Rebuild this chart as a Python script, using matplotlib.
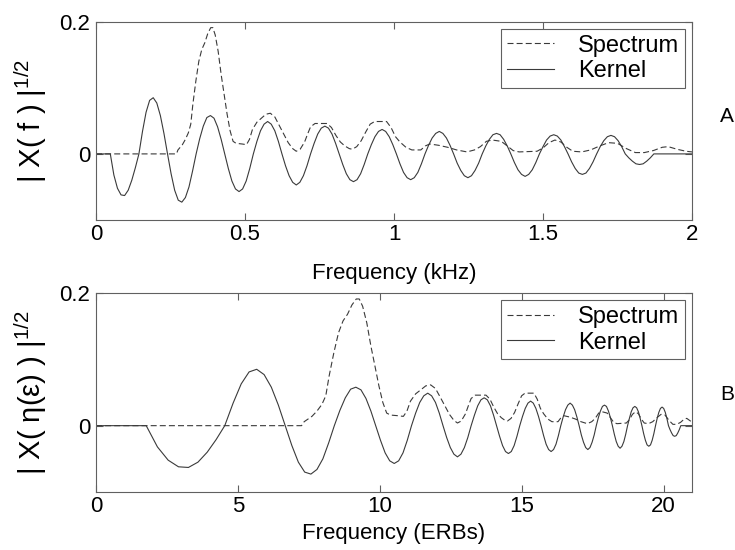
import numpy as np
import matplotlib
matplotlib.use('Agg')
import matplotlib.pyplot as plt

plt.rcParams['font.family'] = ['Liberation Sans', 'DejaVu Sans']
plt.rcParams['mathtext.fontset'] = 'custom'
plt.rcParams['mathtext.rm'] = 'Liberation Sans'

# kernel, one lobe per row (8 samples, 0.012 kHz apart, from 0.048 kHz)
kernel_start = 0.048
kernel_step = 0.012
kernel_lobes = [
    [-0.032, -0.052, -0.062, -0.063, -0.055, -0.040, -0.021, 0.0],
    [0.034, 0.063, 0.081, 0.085, 0.077, 0.058, 0.031, 0.0],
    [-0.030, -0.055, -0.070, -0.073, -0.066, -0.050, -0.026, 0.0],
    [0.023, 0.042, 0.055, 0.058, 0.054, 0.041, 0.022, 0.0],
    [-0.022, -0.041, -0.053, -0.057, -0.053, -0.041, -0.022, 0.0],
    [0.019, 0.035, 0.045, 0.049, 0.045, 0.035, 0.019, 0.0],
    [-0.018, -0.033, -0.043, -0.047, -0.043, -0.033, -0.018, 0.0],
    [0.016, 0.030, 0.039, 0.042, 0.039, 0.030, 0.016, 0.0],
    [-0.016, -0.030, -0.039, -0.042, -0.039, -0.030, -0.016, 0.0],
    [0.014, 0.026, 0.034, 0.037, 0.034, 0.026, 0.014, 0.0],
    [-0.015, -0.028, -0.036, -0.039, -0.036, -0.028, -0.015, 0.0],
    [0.013, 0.024, 0.031, 0.034, 0.031, 0.024, 0.013, 0.0],
    [-0.014, -0.025, -0.033, -0.036, -0.033, -0.025, -0.014, 0.0],
    [0.012, 0.022, 0.029, 0.031, 0.029, 0.022, 0.012, 0.0],
    [-0.013, -0.024, -0.031, -0.034, -0.031, -0.024, -0.013, 0.0],
    [0.011, 0.021, 0.027, 0.029, 0.027, 0.021, 0.011, 0.0],
    [-0.012, -0.022, -0.029, -0.031, -0.029, -0.022, -0.012, 0.0],
    [0.011, 0.020, 0.026, 0.028, 0.026, 0.020, 0.011, 0.0],
    [-0.006, -0.011, -0.015, -0.016, -0.015, -0.011, -0.006, 0.0],
]

# spectrum (sqrt magnitude)
spec_khz = [0.0, 0.27, 0.275, 0.29, 0.30, 0.31, 0.318, 0.325, 0.335, 0.345,
            0.355, 0.365, 0.375, 0.385, 0.392, 0.40, 0.41, 0.42, 0.43, 0.44,
            0.45, 0.46, 0.47, 0.49, 0.505, 0.515, 0.525, 0.54, 0.555, 0.57,
            0.585, 0.60, 0.615, 0.63, 0.645, 0.66, 0.672, 0.685, 0.70, 0.71,
            0.72, 0.735, 0.775, 0.79, 0.805, 0.82, 0.835, 0.85, 0.86, 0.875,
            0.89, 0.905, 0.92, 0.935, 0.975, 0.99, 1.005, 1.02, 1.04, 1.06,
            1.09, 1.105, 1.12, 1.15, 1.18, 1.21, 1.245, 1.27, 1.29, 1.31,
            1.33, 1.36, 1.38, 1.40, 1.42, 1.48, 1.50, 1.52, 1.54, 1.56,
            1.58, 1.60, 1.63, 1.66, 1.69, 1.72, 1.75, 1.78, 1.81, 1.84,
            1.87, 1.90, 1.92, 1.95, 1.98, 2.0]
spectrum = [0.0, 0.0, 0.006, 0.014, 0.022, 0.032, 0.045, 0.075, 0.110, 0.140,
            0.158, 0.168, 0.182, 0.191, 0.191, 0.180, 0.155, 0.120, 0.090, 0.060,
            0.035, 0.019, 0.016, 0.015, 0.014, 0.022, 0.037, 0.048, 0.054, 0.060,
            0.0615, 0.056, 0.043, 0.030, 0.017, 0.008, 0.004, 0.007, 0.018, 0.030,
            0.041, 0.046, 0.046, 0.040, 0.028, 0.018, 0.012, 0.008, 0.007, 0.011,
            0.020, 0.033, 0.045, 0.049, 0.049, 0.040, 0.026, 0.018, 0.010, 0.006,
            0.006, 0.012, 0.015, 0.013, 0.010, 0.006, 0.003, 0.006, 0.011, 0.019,
            0.021, 0.019, 0.012, 0.005, 0.003, 0.004, 0.009, 0.017, 0.021, 0.018,
            0.010, 0.004, 0.003, 0.006, 0.012, 0.017, 0.016, 0.008, 0.002, 0.002,
            0.005, 0.010, 0.011, 0.007, 0.004, 0.003]

khz_ticks = [0, 0.5, 1, 1.5, 2]
khz_labels = ['0', '0.5', '1', '1.5', '2']
erb_ticks = [0, 5, 10, 15, 20]
erb_labels = ['0', '5', '10', '15', '20']
erb_max = 21

kernel = [0.0, 0.0] + [v for lobe in kernel_lobes for v in lobe] + [0.0]
n = len(kernel) - 2
kernel_khz = np.concatenate([[0.0], kernel_start + kernel_step * np.arange(n), [2.0]])


def erb(f):
    return 21.4 * np.log10(1 + 4.37 * np.maximum(f, 0))


def erb_inv(e):
    return (10 ** (np.asarray(e) / 21.4) - 1) / 4.37


line_c = '#3a3a3a'
frame_c = '#606060'

fig = plt.figure(figsize=(7.35, 5.5), dpi=100)
ax1 = fig.add_axes([96/735, 1 - 220/550, 596/735, 198.3/550])
ax2 = fig.add_axes([96/735, 1 - 492/550, 596/735, 199/550])

for ax in (ax1, ax2):
    ax.plot(spec_khz, spectrum, color=line_c, lw=0.8, ls=(0, (5.4, 2.8)), label='Spectrum')
    ax.plot(kernel_khz, kernel, color=line_c, lw=0.8, label='Kernel')
    ax.set_ylim(-0.1, 0.2)
    ax.set_yticks([0, 0.2])
    ax.set_yticklabels(['0', '0.2'])
    ax.tick_params(direction='in', top=True, right=True, length=5, width=0.8,
                   color=frame_c, labelsize=16, pad=3)
    ax.tick_params(axis='y', pad=4)
    for s in ax.spines.values():
        s.set_color(frame_c)
        s.set_linewidth(0.8)
    leg = ax.legend(loc='upper right', fontsize=17, handlelength=2.0, handletextpad=1.0,
                    borderpad=0.25, labelspacing=0.15, borderaxespad=0.3,
                    fancybox=False, framealpha=1, edgecolor=frame_c)
    leg.get_frame().set_linewidth(0.8)

ax1.set_xlim(0, 2)
ax1.set_xticks(khz_ticks)
ax1.set_xticklabels(khz_labels)
ax1.set_xlabel('Frequency (kHz)', fontsize=16)
ax1.xaxis.set_label_coords(0.5, -0.215)
ax1.set_ylabel('| X( f ) |$^{\\mathregular{1/2}}$', fontsize=21)
ax1.yaxis.set_label_coords(-0.079, 0.5)

ax2.set_xscale('function', functions=(erb, erb_inv))
ax2.set_xlim(0, erb_inv(erb_max))
ax2.set_xticks(erb_inv(erb_ticks))
ax2.set_xticklabels(erb_labels)
ax2.set_xlabel('Frequency (ERBs)', fontsize=16)
ax2.xaxis.set_label_coords(0.5, -0.156)
ax2.set_ylabel('| X( \u03b7(\u03b5) ) |$^{\\mathregular{1/2}}$', fontsize=21)
ax2.yaxis.set_label_coords(-0.079, 0.5)

fig.text(734/735, 1 - 117/550, 'A', fontsize=15, ha='right', va='center')
fig.text(734/735, 1 - 394/550, 'B', fontsize=15, ha='right', va='center')

fig.savefig('out.png', dpi=100)
